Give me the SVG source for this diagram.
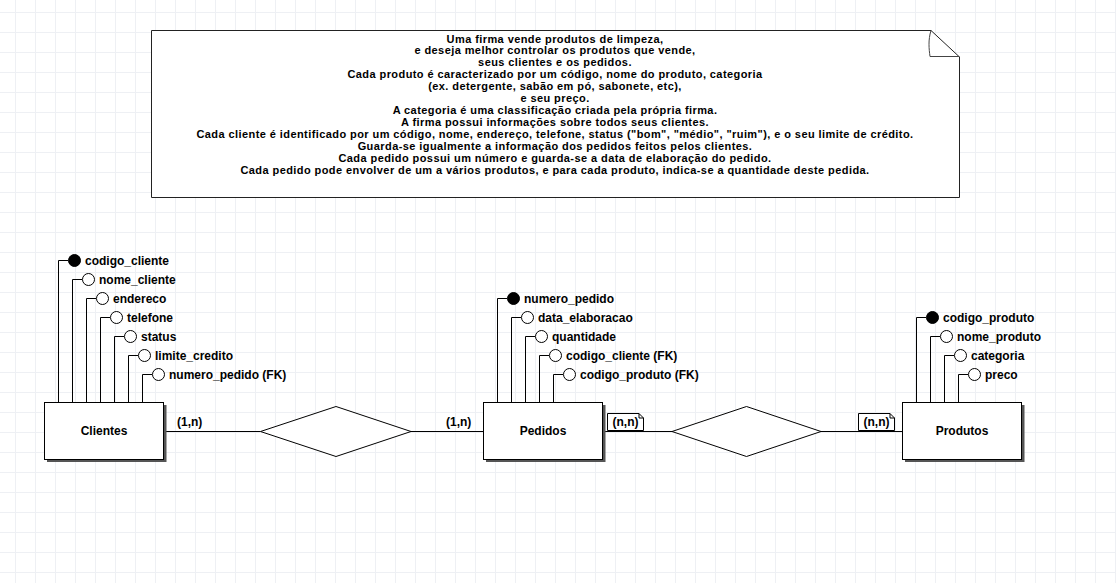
<svg xmlns="http://www.w3.org/2000/svg" width="1116" height="583" viewBox="0 0 1116 583">
<defs>
<pattern id="grid" patternUnits="userSpaceOnUse" x="15" y="12" width="20" height="20">
<path d="M0 0.5H20M0.5 0V20" stroke="#eef0f4" stroke-width="1" fill="none"/>
</pattern>
</defs>
<style>
.t{font-family:"Liberation Sans",Arial,sans-serif;font-weight:bold;font-size:12px;fill:#000}
.n{font-family:"Liberation Sans",Arial,sans-serif;font-weight:bold;font-size:11px;letter-spacing:0.42px;fill:#000;text-anchor:middle}
.ent{fill:#fff;stroke:#000;stroke-width:1}
.sh{fill:#555}
.ln{stroke:#000;stroke-width:1;fill:none}
.att{fill:#fff;stroke:#000;stroke-width:1}
.pk{fill:#000;stroke:#000;stroke-width:1}
.c{text-anchor:middle}
</style>
<rect width="1116" height="583" fill="#fff"/>
<rect width="1116" height="583" fill="url(#grid)"/>

<g id="note">
<path d="M151.5 30.5H931L959.5 57V197.5H151.5Z" fill="#fff" stroke="#222" stroke-width="1"/>
<path d="M931 30.5C928 40 929 49 930 56.5H959.5" fill="none" stroke="#444" stroke-width="1"/>
<text class="n" x="555" y="42.5">Uma firma vende produtos de limpeza,</text>
<text class="n" x="555" y="54.4">e deseja melhor controlar os produtos que vende,</text>
<text class="n" x="555" y="66.3">seus clientes e os pedidos.</text>
<text class="n" x="555" y="78.2">Cada produto é caracterizado por um código, nome do produto, categoria</text>
<text class="n" x="555" y="90.1">(ex. detergente, sabão em pó, sabonete, etc),</text>
<text class="n" x="555" y="102">e seu preço.</text>
<text class="n" x="555" y="113.9">A categoria é uma classificação criada pela própria firma.</text>
<text class="n" x="555" y="125.8">A firma possui informações sobre todos seus clientes.</text>
<text class="n" x="555" y="137.7">Cada cliente é identificado por um código, nome, endereço, telefone, status ("bom", "médio", "ruim"), e o seu limite de crédito.</text>
<text class="n" x="555" y="149.6">Guarda-se igualmente a informação dos pedidos feitos pelos clientes.</text>
<text class="n" x="555" y="161.5">Cada pedido possui um número e guarda-se a data de elaboração do pedido.</text>
<text class="n" x="555" y="173.6">Cada pedido pode envolver de um a vários produtos, e para cada produto, indica-se a quantidade deste pedida.</text>
</g>

<g id="connectors">
<path class="ln" d="M164 431.5H260.5M411 431.5H483.5M603 431.5H672M821 431.5H902.5"/>
</g>

<g id="rel1">
<path d="M260.5 431.5L336 406.5L411 431.5L336 456.5Z" fill="#fff" stroke="#000" stroke-width="1"/>
</g>
<g id="rel2">
<path d="M672 431.5L746.5 406.5L821 431.5L746.5 456.5Z" fill="#fff" stroke="#000" stroke-width="1"/>
</g>

<g id="card1">
<text class="t" x="177" y="426">(1,n)</text>
</g>
<g id="card2">
<text class="t" x="446" y="426">(1,n)</text>
</g>
<g id="card3">
<path d="M607.5 413.5H639L643.5 418V430.5H607.5Z" fill="#fff" stroke="#000" stroke-width="1"/>
<path d="M639 413.5V418H643.5" fill="none" stroke="#000" stroke-width="1"/>
<text class="t c" x="625.5" y="426">(n,n)</text>
</g>
<g id="card4">
<path d="M858.5 413.5H890L894.5 418V430.5H858.5Z" fill="#fff" stroke="#000" stroke-width="1"/>
<path d="M890 413.5V418H894.5" fill="none" stroke="#000" stroke-width="1"/>
<text class="t c" x="876.5" y="426">(n,n)</text>
</g>

<g id="clientes">
<path class="ln" d="M58.5 402V260.5H68M72.5 402V279.5H82M86.5 402V298.5H96M100.5 402V317.5H110M114.5 402V336.5H124M128.5 402V355.5H138M142.5 402V374.5H152"/>
<circle class="pk" cx="74.5" cy="260.5" r="6"/>
<circle class="att" cx="88.5" cy="279.5" r="6"/>
<circle class="att" cx="102.5" cy="298.5" r="6"/>
<circle class="att" cx="116.5" cy="317.5" r="6"/>
<circle class="att" cx="130.5" cy="336.5" r="6"/>
<circle class="att" cx="144.5" cy="355.5" r="6"/>
<circle class="att" cx="158.5" cy="374.5" r="6"/>
<text class="t" x="85" y="265">codigo_cliente</text>
<text class="t" x="99" y="284">nome_cliente</text>
<text class="t" x="113" y="303">endereco</text>
<text class="t" x="127" y="322">telefone</text>
<text class="t" x="141" y="341">status</text>
<text class="t" x="155" y="360">limite_credito</text>
<text class="t" x="169" y="379">numero_pedido (FK)</text>
<rect class="sh" x="47" y="405" width="119.5" height="57"/>
<rect class="ent" x="44.5" y="402.5" width="119" height="57"/>
<text class="t c" x="104" y="435">Clientes</text>
</g>

<g id="pedidos">
<path class="ln" d="M497.5 402V298.5H507M511.5 402V317.5H521M525.5 402V336.5H535M539.5 402V355.5H549M553.5 402V374.5H563"/>
<circle class="pk" cx="513.5" cy="298.5" r="6"/>
<circle class="att" cx="527.5" cy="317.5" r="6"/>
<circle class="att" cx="541.5" cy="336.5" r="6"/>
<circle class="att" cx="555.5" cy="355.5" r="6"/>
<circle class="att" cx="569.5" cy="374.5" r="6"/>
<text class="t" x="524" y="303">numero_pedido</text>
<text class="t" x="538" y="322">data_elaboracao</text>
<text class="t" x="552" y="341">quantidade</text>
<text class="t" x="566" y="360">codigo_cliente (FK)</text>
<text class="t" x="580" y="379">codigo_produto (FK)</text>
<rect class="sh" x="486" y="405" width="119.5" height="57"/>
<rect class="ent" x="483.5" y="402.5" width="119" height="57"/>
<text class="t c" x="543" y="435">Pedidos</text>
</g>

<g id="produtos">
<path class="ln" d="M916.5 402V317.5H926M930.5 402V336.5H940M944.5 402V355.5H954M958.5 402V374.5H968"/>
<circle class="pk" cx="932.5" cy="317.5" r="6"/>
<circle class="att" cx="946.5" cy="336.5" r="6"/>
<circle class="att" cx="960.5" cy="355.5" r="6"/>
<circle class="att" cx="974.5" cy="374.5" r="6"/>
<text class="t" x="943" y="322">codigo_produto</text>
<text class="t" x="957" y="341">nome_produto</text>
<text class="t" x="971" y="360">categoria</text>
<text class="t" x="985" y="379">preco</text>
<rect class="sh" x="905" y="405" width="119.5" height="57"/>
<rect class="ent" x="902.5" y="402.5" width="119" height="57"/>
<text class="t c" x="962" y="435">Produtos</text>
</g>
</svg>
